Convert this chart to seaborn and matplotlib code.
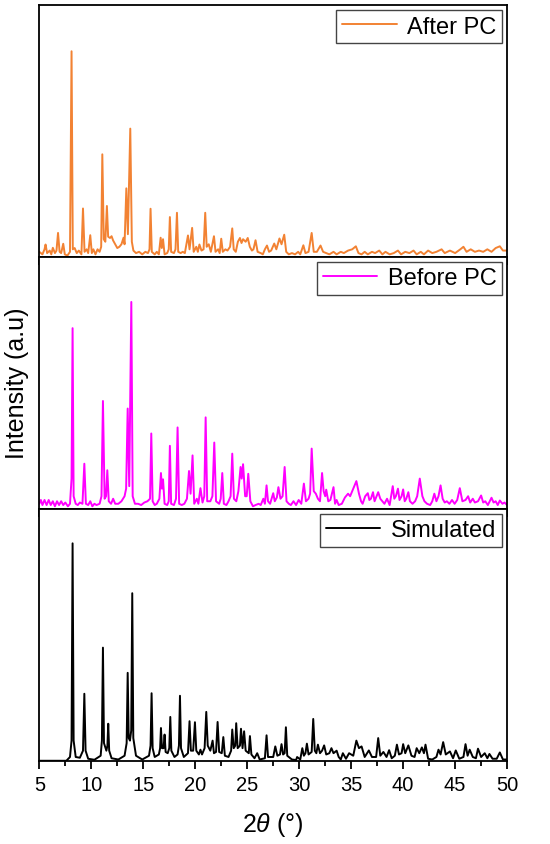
import pandas as pd
import seaborn as sns
import matplotlib.pyplot as plt
from matplotlib.ticker import MultipleLocator

after_x = [5.0, 5.3, 5.5, 5.6, 5.75, 6.0, 6.15, 6.3, 6.5, 6.65,
           6.8, 6.95, 7.1, 7.3, 7.45, 7.7, 7.95, 8.1, 8.22, 8.4,
           8.6, 8.8, 9.05, 9.2, 9.35, 9.55, 9.7, 9.9, 10.05, 10.2,
           10.4, 10.6, 10.8, 10.95, 11.06, 11.2, 11.35, 11.5, 11.62, 11.8,
           11.95, 12.1, 12.3, 12.5, 12.7, 12.9, 13.1, 13.2, 13.37, 13.52,
           13.75, 13.9, 14.05, 14.3, 14.6, 14.9, 15.2, 15.45, 15.6, 15.7,
           15.82, 16.1, 16.3, 16.5, 16.67, 16.78, 16.9, 17.05, 17.3, 17.45,
           17.56, 17.68, 17.95, 18.1, 18.24, 18.36, 18.6, 18.8, 19.0, 19.3,
           19.45, 19.7, 19.85, 20.1, 20.25, 20.4, 20.6, 20.8, 20.96, 21.1,
           21.3, 21.5, 21.8, 21.95, 22.2, 22.35, 22.5, 22.65, 22.9, 23.1,
           23.35, 23.56, 23.7, 23.9, 24.1, 24.3, 24.45, 24.6, 24.85, 25.05,
           25.25, 25.45, 25.6, 25.8, 26.0, 26.3, 26.5, 26.7, 26.9, 27.1,
           27.3, 27.6, 27.8, 28.1, 28.3, 28.56, 28.75, 29.0, 29.3, 29.6,
           29.9, 30.1, 30.4, 30.6, 30.9, 31.2, 31.4, 31.7, 32.05, 32.3,
           32.6, 32.9, 33.3, 33.6, 34.0, 34.3, 34.7, 35.1, 35.45, 35.7,
           36.0, 36.3, 36.6, 37.0, 37.3, 37.7, 38.0, 38.3, 38.7, 39.1,
           39.5, 39.8, 40.2, 40.6, 41.0, 41.3, 41.7, 42.0, 42.4, 42.8,
           43.2, 43.7, 44.0, 44.5, 45.0, 45.5, 45.8, 46.1, 46.5, 46.9,
           47.3, 47.7, 48.1, 48.5, 48.9, 49.3, 49.6, 50.0]
after_y = [2, 1, 3, 4.9, 1.5, 2.5, 1, 3.6, 1.5, 2.5,
           9.5, 2, 1.5, 5.2, 1, 0.5, 2, 81.6, 3, 3.5,
           1.5, 2.5, 1, 19.2, 2, 3, 1.5, 8.6, 1.5, 3,
           1, 3, 2, 4, 40.7, 7, 6, 20.2, 8, 7.5,
           8.2, 6.5, 5, 3.5, 4, 5, 7.6, 5, 27.2, 9,
           50.9, 6, 2.5, 1.5, 2, 1, 2, 1.5, 3, 19.1,
           2, 1, 2, 1, 7.6, 3.5, 7, 1, 1.5, 3,
           15.8, 2, 1.5, 3, 17.5, 2, 1.5, 2, 1.5, 8.5,
           3, 11.5, 2, 4, 2, 4.9, 2.5, 3, 17.5, 4,
           5, 2, 8.2, 2, 3, 1.5, 7.2, 2, 3, 2.5,
           4, 11.3, 3, 2, 6, 7.5, 5.5, 7, 6, 7.5,
           4, 2.5, 3, 6.6, 2, 1.5, 1, 3, 4.5, 2,
           2.5, 5.3, 3, 7.3, 5, 8.8, 2, 1, 1.5, 1,
           2, 1, 4.6, 1.5, 2, 9.5, 2, 2, 4.5, 2,
           1.5, 1, 2, 1, 2, 1.5, 2.5, 3, 4.2, 1.5,
           1, 2, 1, 2, 1.5, 2.5, 1, 2, 1, 1.5,
           2.5, 1, 2, 1.5, 2.5, 1, 2, 1, 2.5, 1.5,
           2, 3, 1.5, 2.5, 1.5, 3, 4, 2, 3, 2,
           2.5, 2, 3, 2, 3.5, 4.2, 2.5, 2.5]

before_x = [5.0, 5.15, 5.3, 5.5, 5.7, 5.9, 6.1, 6.3, 6.5, 6.7,
            6.9, 7.1, 7.3, 7.5, 7.75, 7.95, 8.1, 8.2, 8.3, 8.5,
            8.7, 8.9, 9.15, 9.33, 9.48, 9.7, 9.9, 10.1, 10.3, 10.5,
            10.8, 10.98, 11.12, 11.28, 11.42, 11.54, 11.68, 11.9, 12.1, 12.3,
            12.6, 12.9, 13.2, 13.35, 13.5, 13.65, 13.85, 13.98, 14.2, 14.5,
            14.8, 15.1, 15.4, 15.65, 15.77, 15.9, 16.1, 16.3, 16.55, 16.7,
            16.8, 16.9, 17.05, 17.3, 17.45, 17.56, 17.68, 17.95, 18.15, 18.3,
            18.45, 18.7, 18.95, 19.2, 19.4, 19.55, 19.74, 19.9, 20.15, 20.3,
            20.5, 20.7, 20.87, 21.0, 21.15, 21.45, 21.65, 21.83, 22.0, 22.3,
            22.45, 22.6, 22.75, 23.0, 23.2, 23.4, 23.56, 23.72, 23.95, 24.15,
            24.36, 24.47, 24.6, 24.8, 24.95, 25.1, 25.3, 25.55, 25.8, 26.1,
            26.3, 26.55, 26.7, 26.86, 27.0, 27.2, 27.5, 27.65, 27.85, 28.0,
            28.2, 28.4, 28.6, 28.78, 29.0, 29.2, 29.45, 29.7, 29.95, 30.2,
            30.45, 30.65, 30.9, 31.05, 31.2, 31.4, 31.6, 31.8, 32.0, 32.2,
            32.35, 32.5, 32.6, 32.8, 33.0, 33.3, 33.45, 33.6, 33.8, 34.1,
            34.4, 34.7, 34.9, 35.1, 35.5, 35.75, 35.95, 36.1, 36.35, 36.6,
            36.75, 36.9, 37.1, 37.25, 37.45, 37.6, 37.8, 38.0, 38.2, 38.45,
            38.7, 39.0, 39.15, 39.3, 39.5, 39.65, 39.85, 40.0, 40.15, 40.3,
            40.5, 40.65, 40.9, 41.15, 41.35, 41.6, 41.85, 42.05, 42.3, 42.6,
            42.8, 43.0, 43.2, 43.4, 43.6, 43.8, 44.0, 44.2, 44.45, 44.7,
            44.95, 45.2, 45.45, 45.7, 46.0, 46.25, 46.45, 46.7, 46.9, 47.2,
            47.5, 47.7, 47.9, 48.15, 48.5, 48.7, 48.9, 49.1, 49.3, 49.55,
            49.75, 50.0]
before_y = [2, 3.5, 1.5, 3.5, 1.5, 3.5, 1.5, 3, 1, 3,
            1.5, 3, 1.5, 2.5, 1, 2, 12, 71.7, 5, 2,
            1.5, 2.5, 2, 17.9, 2, 1.5, 3, 1, 2, 1.5,
            2, 5, 42.8, 4, 5, 15.3, 3, 2, 4, 2,
            2, 3, 5, 8, 39.8, 9, 82.1, 5, 2, 2,
            1.5, 2.5, 3, 4, 29.9, 3, 1.5, 2, 4, 14.2,
            8, 11.7, 2, 1.5, 3, 25, 2, 1.5, 4, 32.3,
            2, 1.5, 2, 4, 15, 6, 21.2, 2, 4, 2,
            8.2, 2.5, 5, 36.3, 3, 3, 5, 26.3, 3, 2,
            4, 14.2, 2, 1.5, 3, 5, 21.9, 4, 3, 7,
            16.6, 12, 17.7, 5, 5, 13.9, 3, 1, 1.5, 2,
            1.5, 4, 2, 9.3, 3, 2, 6.2, 3, 4.5, 8.6,
            4, 5, 16.6, 3, 2, 1.5, 3, 1.5, 3.5, 2,
            10, 3, 4, 6, 23.9, 7, 6, 4, 3, 14.2,
            7, 5, 7.6, 3, 3.5, 8.6, 2, 3.5, 1.5, 2,
            4.5, 6, 5, 7, 11, 6, 3, 2, 5, 6.2,
            3.5, 4, 6.6, 3, 5, 6.6, 4, 3, 2, 4,
            1.5, 9, 4, 5, 8, 3.5, 5, 7.7, 3, 4,
            6.6, 3, 2, 3, 5, 12, 5, 3, 2, 1.5,
            3, 6, 3, 5, 9.3, 4, 2.5, 3, 2, 3.5,
            2, 3.5, 8.2, 3, 3.5, 5, 2.5, 4, 2.5, 3,
            5.3, 2.5, 3, 1.5, 4.4, 2.5, 3, 1.5, 3.3, 2,
            2.5, 1.5]

sim_x = [5.0, 7.6, 7.95, 8.1, 8.2, 8.3, 8.5, 8.9, 9.2, 9.33,
         9.45, 9.7, 10.3, 10.9, 11.02, 11.12, 11.22, 11.45, 11.55, 11.63,
         11.72, 11.95, 12.6, 13.2, 13.4, 13.5, 13.6, 13.72, 13.84, 13.94,
         14.04, 14.3, 14.9, 15.55, 15.7, 15.8, 15.9, 16.1, 16.5, 16.62,
         16.7, 16.8, 16.95, 17.05, 17.15, 17.35, 17.5, 17.6, 17.7, 18.0,
         18.3, 18.43, 18.53, 18.63, 18.9, 19.3, 19.45, 19.58, 19.8, 19.97,
         20.1, 20.35, 20.5, 20.65, 20.9, 21.06, 21.2, 21.45, 21.67, 21.8,
         22.0, 22.15, 22.3, 22.55, 22.7, 22.85, 23.2, 23.45, 23.56, 23.7,
         23.85, 23.94, 24.08, 24.3, 24.4, 24.55, 24.7, 24.85, 25.15, 25.26,
         25.4, 25.7, 25.96, 26.2, 26.7, 26.86, 27.0, 27.5, 27.7, 27.9,
         28.15, 28.3, 28.45, 28.6, 28.72, 28.85, 29.3, 29.7, 29.8, 30.1,
         30.3, 30.45, 30.6, 30.74, 30.9, 31.2, 31.35, 31.5, 31.65, 31.8,
         32.0, 32.2, 32.4, 32.6, 32.9, 33.1, 33.3, 33.6, 33.8, 34.0,
         34.2, 34.5, 34.8, 35.2, 35.5, 35.75, 36.0, 36.3, 36.7, 37.0,
         37.4, 37.6, 37.8, 38.1, 38.4, 38.65, 38.9, 39.2, 39.4, 39.6,
         39.85, 40.0, 40.2, 40.5, 40.8, 41.1, 41.3, 41.55, 41.8, 42.0,
         42.15, 42.4, 42.8, 43.2, 43.4, 43.6, 43.85, 44.1, 44.5, 44.8,
         45.06, 45.4, 45.8, 46.0, 46.2, 46.4, 46.7, 47.0, 47.2, 47.5,
         47.85, 48.1, 48.3, 48.6, 49.0, 49.3, 49.6, 50.0]
sim_y = [0, 0, 1.5, 8, 86.3, 8, 1.5, 1.2, 4, 26.6,
         4, 0.8, 0.4, 2, 8, 44.9, 7, 4, 6, 14.7,
         4, 1, 0.5, 2, 7, 34.9, 9, 8, 12, 66.5,
         9, 2, 0.5, 2, 6, 26.8, 5, 1.5, 2.5, 5,
         13, 5, 5, 10.4, 3.5, 3, 5, 17.4, 4, 1.5,
         2.5, 6, 25.8, 5, 1.5, 3, 15.7, 4, 4, 15.3,
         4, 2.5, 4.4, 2.5, 5, 19.4, 6, 4, 8, 3,
         3.5, 15.4, 3.5, 3, 9.4, 2, 1.5, 4, 12.4, 5,
         6, 14.9, 5, 6, 12.7, 5, 11.7, 4, 3, 9.8,
         2.5, 1, 3, 0.5, 1, 10.1, 1.5, 1.5, 5.7, 2,
         2.5, 6.6, 2.5, 3, 13.3, 2, 0.5, 0.3, 1.5, 0.5,
         5, 2, 3, 6.8, 2.5, 3.5, 16.6, 4, 3, 6.4,
         3, 4, 6.1, 2.5, 3, 5, 3, 4, 1.5, 0.5,
         3, 0.8, 3, 2, 8, 5, 5.7, 1.5, 4.1, 1.5,
         1.5, 9, 2, 3.5, 1.5, 4.2, 1, 2, 6.4, 2.5,
         3, 6.6, 3, 6.1, 2, 1.5, 5, 3, 5.3, 3,
         6.4, 0.8, 0.5, 1.5, 4.4, 2.5, 7.4, 2.5, 3.7, 1,
         4.1, 0.8, 1.5, 6.6, 2, 4.4, 1.5, 1, 4.8, 1.5,
         3, 1, 2.7, 0.8, 0.8, 3.3, 0.5, 0.5]

labels = ['After PC', 'Before PC', 'Simulated']
colors = ['#F28233', '#FF00FF', '#000000']
xticks = [5, 10, 15, 20, 25, 30, 35, 40, 45, 50]

sns.set_style('ticks')
plt.rcParams['font.family'] = ['Liberation Sans', 'DejaVu Sans']
plt.rcParams['mathtext.fontset'] = 'custom'
plt.rcParams['mathtext.it'] = 'Liberation Sans:italic'
plt.rcParams['mathtext.rm'] = 'Liberation Sans'
for key in ['text.color', 'axes.labelcolor', 'xtick.color', 'ytick.color',
            'axes.edgecolor']:
    plt.rcParams[key] = 'black'

series = [(after_x, after_y), (before_x, before_y), (sim_x, sim_y)]

fig, axes = plt.subplots(3, 1, figsize=(5.5, 8.45), dpi=100, sharex=True)
fig.subplots_adjust(left=0.0715, right=0.922, bottom=0.0985, top=0.993, hspace=0)

for ax, (xs, ys), lab, col in zip(axes, series, labels, colors):
    df = pd.DataFrame({'two_theta': xs, 'intensity': ys})
    sns.lineplot(data=df, x='two_theta', y='intensity', ax=ax, color=col,
                 lw=1.4, label=lab, estimator=None, sort=False)
    ax.set_xlim(5, 50)
    ax.set_ylim(0, 100)
    ax.set_yticks([])
    ax.set_ylabel('')
    ax.set_xlabel('')
    ax.xaxis.set_major_locator(MultipleLocator(5))
    ax.xaxis.set_minor_locator(MultipleLocator(2.5))
    ax.tick_params(axis='x', which='major', direction='out', length=6,
                   width=1.3, labelsize=14.5, pad=4, colors='black')
    ax.tick_params(axis='x', which='minor', direction='out', length=3.5,
                   width=1.3, colors='black')
    for sp in ax.spines.values():
        sp.set_linewidth(1.3)
        sp.set_color('black')
    leg = ax.legend(loc='upper right', fontsize=17, handlelength=2.3,
                    handletextpad=0.45, borderpad=0.25, borderaxespad=0.2,
                    fancybox=False, framealpha=1, edgecolor='#444444')
    leg.get_frame().set_linewidth(1.0)
    for t in leg.get_texts():
        t.set_color('black')
    leg.set_zorder(5)

axes[2].set_xticks(xticks)
axes[2].set_xlabel(r'2$\mathit{\theta}$ (°)', fontsize=18, labelpad=12,
                   color='black')
fig.text(0.031, 0.546, 'Intensity (a.u)', rotation=90, fontsize=18,
         ha='center', va='center', color='black')

fig.savefig('out.png', dpi=100)
